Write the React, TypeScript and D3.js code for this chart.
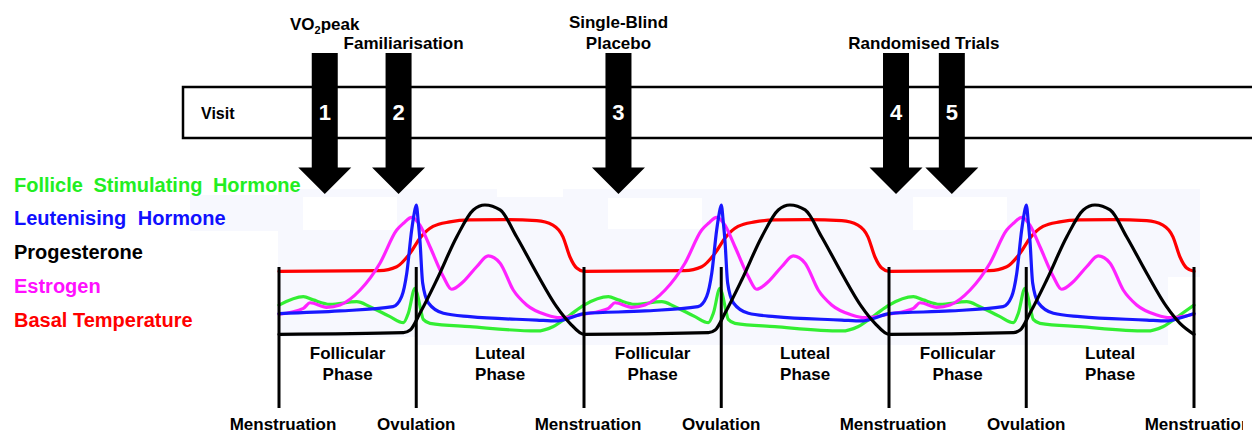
import React from 'react';
import * as d3 from 'd3';

const W = 1252;
const H = 434;

// ---- data (x = % of menstrual cycle, y = relative level 0-100) ----
const legendLabels = ['Follicle Stimulating Hormone', 'Leutenising Hormone', 'Progesterone', 'Estrogen', 'Basal Temperature'];
const legendColors = ['#22ee22', '#1010ff', '#000000', '#ff10ff', '#ff0000'];
const legendWordSpacing = [5, 6, 0, 0, 0];

const fshPoints: [number, number][] = [[0, 23], [8, 29.5], [11.2, 27], [16.7, 23.6], [25.5, 25.6], [29.8, 21.8], [36.4, 14.1], [40.8, 9.5], [42.4, 16.7], [44.6, 35.9], [45.4, 31], [46.5, 19], [47.3, 12], [49.5, 9], [62.6, 6.4], [84.5, 3.1], [89.8, 6.4], [95.4, 15.4], [100, 23]];
const lhPoints: [number, number][] = [[0, 16.5], [20, 18.5], [37.4, 21.8], [40.2, 29.5], [41.9, 47.7], [43.5, 80.8], [44.3, 93], [45, 100], [45.7, 86], [46.2, 73], [47.1, 40], [49, 24.6], [53.9, 16.7], [62.6, 14.1], [84.5, 11.5], [91, 10.8], [95.4, 13.1], [100, 16.5]];
const progPoints: [number, number][] = [[0, 0.5], [40.8, 1.8], [43, 3.8], [46.2, 16.7], [51.7, 42.3], [58.3, 75.6], [63.7, 96.2], [67.5, 100], [72.5, 96.2], [77.9, 75.6], [84.5, 47.5], [91, 21.8], [95.4, 9], [100, 0.5]];
const estPoints: [number, number][] = [[0, 16], [8, 20.5], [10.2, 24.8], [15.6, 21.3], [20, 23.1], [26.6, 34.6], [33.1, 55.2], [38.6, 80.8], [40.8, 85.9], [43.5, 90.5], [46.2, 84.6], [49.5, 67.9], [53.9, 44.8], [56.6, 35.2], [60.4, 41], [64.8, 52.5], [68.6, 60.8], [72.5, 55.2], [76.8, 34.6], [81.2, 23.1], [87.8, 15.4], [92.1, 13.3], [100, 16]];
const tempPoints: [number, number][] = [[0, 49], [33, 49.5], [38.6, 52.5], [43, 63], [46.2, 74.5], [50.5, 83.5], [56, 87], [62.6, 88.5], [73.4, 88.7], [84.5, 88], [89.8, 84.5], [93.1, 75.5], [95.4, 60], [97.6, 51.5], [100, 49]];

const cycles = [0, 1, 2];
const ovulationPct = 45;

const visitNumbers = ['1', '2', '3', '4', '5'];
const visitPositions = [15, 39.2, 111.3, 202.3, 220.6];

// ---- layout ----
const FONT = '"Liberation Sans", Arial, sans-serif';

export default function App() {
  const x = d3.scaleLinear().domain([0, 300]).range([279, 1194]);
  const y = d3.scaleLinear().domain([0, 100]).range([335, 205]);

  const expand = (pts: [number, number][]) => {
    const out: [number, number][] = [];
    cycles.forEach((c, i) => {
      pts.forEach((p, j) => {
        if (i > 0 && j === 0) return;
        out.push([p[0] + c * 100, p[1]]);
      });
    });
    return out;
  };
  const line = d3.line<[number, number]>().x(d => x(d[0])).y(d => y(d[1])).curve(d3.curveMonotoneX);

  const series = [
    { pts: tempPoints, color: '#ff0000' },
    { pts: fshPoints, color: '#33ee33' },
    { pts: estPoints, color: '#ff22ff' },
    { pts: lhPoints, color: '#1818ff' },
    { pts: progPoints, color: '#000000' },
  ];

  const arrowPath = (cx: number) => {
    const sw = 13, hw = 26.5, top = 53, neck = 167.5, tip = 194;
    return `M${cx - sw},${top}L${cx + sw},${top}L${cx + sw},${neck}L${cx + hw},${neck}L${cx},${tip}L${cx - hw},${neck}L${cx - sw},${neck}Z`;
  };

  const ax = visitPositions.map(v => x(v));
  const boundaries = [0, 1, 2, 3].map(c => c * 100);

  return (
    <svg width={W} height={H} style={{ position: 'absolute', left: 0, top: 0, display: 'block', background: '#fff' }}
      fontFamily={FONT} fontWeight="bold">
      <defs>
        <clipPath id="pageClip"><rect x={0} y={0} width={1243} height={H} /></clipPath>
      </defs>
      {/* pasted plot background */}
      <rect x={278} y={189} width={922} height={156} fill="#f7f8fe" />
      <rect x={190} y={195} width={88} height={36} fill="#f7f8fe" />
      <rect x={303} y={197} width={94} height={33} fill="#ffffff" />
      <rect x={608} y={198} width={94} height={31} fill="#ffffff" />
      <rect x={913} y={197} width={94} height={33} fill="#ffffff" />
      <rect x={497} y={189} width={66} height={8} fill="#ffffff" />
      <rect x={278} y={337} width={138} height={8} fill="#ffffff" />
      <rect x={1168} y={277} width={32} height={68} fill="#ffffff" />

      {/* visit box */}
      <rect x={183} y={87} width={1100} height={51} fill="#fff" stroke="#000" strokeWidth={2.5} />
      <text x={201} y={118.5} fontSize={16}>Visit</text>

      {/* top labels */}
      <text x={ax[0]} y={29.5} fontSize={17} textAnchor="middle">VO<tspan fontSize={11} dy={4}>2</tspan><tspan dy={-4}>peak</tspan></text>
      <text x={ax[1] + 5} y={48.5} fontSize={17} textAnchor="middle">Familiarisation</text>
      <text x={ax[2]} y={27.5} fontSize={17} textAnchor="middle">Single-Blind</text>
      <text x={ax[2]} y={48.5} fontSize={17} textAnchor="middle">Placebo</text>
      <text x={(ax[3] + ax[4]) / 2} y={48.5} fontSize={17} textAnchor="middle">Randomised Trials</text>

      {/* arrows */}
      {ax.map((cx, i) => (
        <g key={'a' + i}>
          <path d={arrowPath(cx)} fill="#000" />
          <text x={cx} y={120} fontSize={22} fill="#fff" textAnchor="middle">{visitNumbers[i]}</text>
        </g>
      ))}

      {/* legend */}
      {legendLabels.map((l, i) => (
        <text key={l} x={14} y={191.7 + i * 33.7} fontSize={20} fill={legendColors[i]} wordSpacing={legendWordSpacing[i]}>{l}</text>
      ))}

      {/* hormone curves */}
      {series.map((s, i) => (
        <path key={'s' + i} d={line(expand(s.pts)) || ''} fill="none" stroke={s.color} strokeWidth={3.2}
          strokeLinejoin="round" strokeLinecap="round" />
      ))}

      {/* phase boundary lines */}
      {boundaries.map(b => (
        <line key={'m' + b} x1={x(b)} x2={x(b)} y1={267} y2={408} stroke="#000" strokeWidth={3} />
      ))}
      {cycles.map(c => (
        <line key={'o' + c} x1={x(c * 100 + ovulationPct)} x2={x(c * 100 + ovulationPct)} y1={267} y2={408} stroke="#000" strokeWidth={3} />
      ))}

      {/* phase labels */}
      {cycles.map(c => (
        <g key={'p' + c} fontSize={17} textAnchor="middle">
          <text x={x(c * 100 + ovulationPct / 2)} y={358.5}>Follicular</text>
          <text x={x(c * 100 + ovulationPct / 2)} y={379.5}>Phase</text>
          <text x={x(c * 100 + (ovulationPct + 100) / 2)} y={358.5}>Luteal</text>
          <text x={x(c * 100 + (ovulationPct + 100) / 2)} y={379.5}>Phase</text>
          <text x={x(c * 100 + ovulationPct)} y={430}>Ovulation</text>
        </g>
      ))}
      <g clipPath="url(#pageClip)" fontSize={17} textAnchor="middle">
        {boundaries.map(b => (
          <text key={'mt' + b} x={x(b) + 4} y={430}>Menstruation</text>
        ))}
      </g>
    </svg>
  );
}
